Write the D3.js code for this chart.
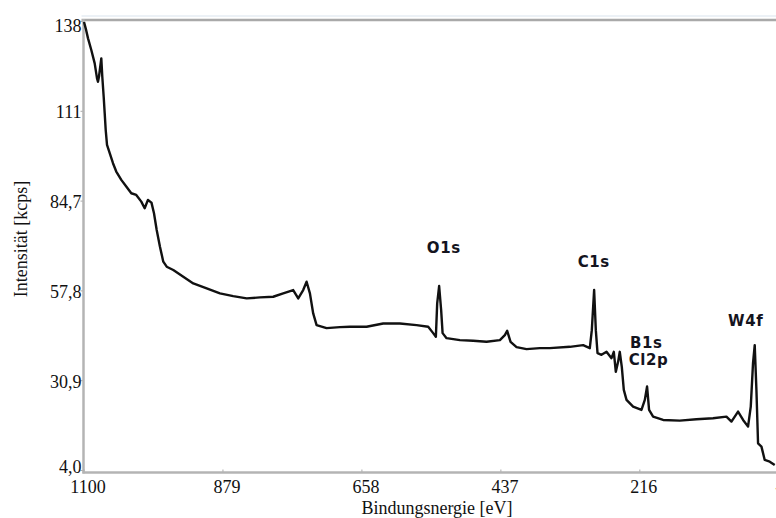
<!DOCTYPE html>
<html>
<head>
<meta charset="utf-8">
<script src="https://cdn.jsdelivr.net/npm/d3@7"></script>
<style>
  html, body { margin: 0; padding: 0; background: #fff; }
  svg { display: block; }
</style>
</head>
<body>
<svg id="chart" width="776" height="518"></svg>
<script>
// Binding energy (eV) and intensity (kcps)
const energy = [1099.2,1096.5,1092.8,1087.6,1082.2,1078.5,1077,1075.4,1071.7,1070.1,1067.9,1066.3,1064.7,1062.6,1058.3,1053.1,1047.9,1039.9,1032,1024,1016.1,1008.1,1002.7,997.5,991.9,987.9,983.6,978.4,973.1,967.7,957.2,941.3,925.4,904.1,883,861.9,840.5,819.4,798.3,782.4,766.5,758.5,750.6,745.2,739.9,734.7,729.3,713.4,692.2,676.3,649.8,623.4,596.8,570.3,551.8,543.9,539.6,537.5,534.4,531.2,528.9,522.6,501.4,480.3,459,437.8,429.9,426.2,420.8,411.3,395.4,374.3,358.4,326.6,305.4,294.8,291.6,287.9,285.2,282.5,276.2,268.2,260.3,256.6,253.4,249.8,247.1,243.9,240.7,236.4,225.9,212.6,207.3,203.7,200.5,194.1,178.2,151.7,125.2,98.8,77.5,69.5,59,51,43.1,38.8,35.2,32.5,29.8,27.2,21.8,16.6,8.6,0.7];
const intensity = [138.2,136.3,133.3,129.8,125.8,121.3,120.3,121.8,127.3,121.8,115.8,110.9,105.9,101.4,98.9,95.9,93.4,90.9,88.9,86.9,86.4,84.4,82.4,84.9,84.1,80.9,75.9,70.9,66.4,64.9,63.9,61.9,59.9,58.4,56.9,56.1,55.4,55.7,55.9,56.9,57.9,55.4,57.9,60.4,56.9,50.9,47.4,46.5,46.8,46.9,46.9,47.9,47.9,47.4,46.9,45.0,43.9,53.9,59.1,51.9,45.0,43.5,42.9,42.7,42.4,42.9,44.4,45.7,42.4,40.8,40.2,40.5,40.5,40.9,41.4,40.5,45.9,57.9,45.9,39.0,38.5,39.4,37.5,39.4,33.4,36.4,39.4,34.9,28.0,25.0,23.0,22.0,25.0,29.0,22.0,20.0,19.0,18.8,19.2,19.5,20.0,18.5,21.5,19.0,17.0,23.0,36.0,41.4,28.0,12.0,11.0,7.0,6.5,5.5];

const xTickValues = [1100, 879, 658, 437, 216, -5];
const xTickLabels = ["1100", "879", "658", "437", "216", "-5"];
const yTickValues = [4.0, 30.9, 57.8, 84.7, 111.6, 138.5];
const yTickLabels = ["4,0", "30,9", "57,8", "84,7", "111", "138"];

const peakNames = ["O1s", "C1s", "B1s", "Cl2p", "W4f"];
const peakEnergy = [554, 314, 231, 233, 75];
const peakLevel = [69.1, 64.7, 40.5, 35.6, 47.1];

const axisTitleX = "Bindungsnergie [eV]";
const axisTitleY = "Intensität [kcps]";

const svg = d3.select("#chart");
const plotLeft = 83.5, plotRight = 778.3, plotTop = 21, plotBottom = 470;
const axisY = 472.5;

const x = d3.scaleLinear().domain([1100, -5]).range([plotLeft, plotRight]);
const y = d3.scaleLinear().domain([4.0, 138.5]).range([plotBottom, plotTop]);

svg.append("rect").attr("width", 776).attr("height", 518).attr("fill", "#fff");

// frame top lines
svg.append("line").attr("x1", plotLeft - 2).attr("x2", 776).attr("y1", 16).attr("y2", 16)
  .attr("stroke", "#e6edf3").attr("stroke-width", 1.5);
svg.append("line").attr("x1", plotLeft - 2).attr("x2", 776).attr("y1", 20).attr("y2", 20)
  .attr("stroke", "#a9a9a9").attr("stroke-width", 2.5);

const font = "'Liberation Serif', 'Times New Roman', serif";

// y axis
const yAxis = d3.axisLeft(y).tickValues(yTickValues)
  .tickFormat((d, i) => yTickLabels[i]).tickSize(3).tickSizeOuter(0);
const gy = svg.append("g").attr("transform", `translate(${plotLeft},0)`).call(yAxis);
gy.select(".domain").remove();
gy.selectAll(".tick line").attr("stroke", "#aaa");
const nTick = yTickValues.length;
gy.selectAll(".tick text").attr("font-family", font).attr("font-size", 18)
  .attr("fill", "#111").attr("x", -2).attr("dy", "0.34em")
  .attr("y", (d, i) => i === 0 ? -4 : (i === nTick - 1 ? 4 : 1));
svg.append("line").attr("x1", plotLeft).attr("x2", plotLeft).attr("y1", 19).attr("y2", axisY + 1)
  .attr("stroke", "#b4b4b4").attr("stroke-width", 2.5);

// x axis
const xAxis = d3.axisBottom(x).tickValues(xTickValues)
  .tickFormat((d, i) => xTickLabels[i]).tickSize(-3).tickSizeOuter(0);
const gx = svg.append("g").attr("transform", `translate(0,${axisY})`).call(xAxis);
gx.select(".domain").remove();
gx.selectAll(".tick line").attr("stroke", "#aaa");
gx.selectAll(".tick text").attr("font-family", font).attr("font-size", 18)
  .attr("fill", "#111").attr("y", 8).attr("dx", 4);
svg.append("line").attr("x1", plotLeft - 1).attr("x2", 776).attr("y1", axisY).attr("y2", axisY)
  .attr("stroke", "#b4b4b4").attr("stroke-width", 2.5);

// axis titles
svg.append("text").attr("x", 437).attr("y", 514).attr("text-anchor", "middle")
  .attr("font-family", font).attr("font-size", 18).attr("fill", "#111").text(axisTitleX);
svg.append("text").attr("transform", "translate(27,239) rotate(-90)").attr("text-anchor", "middle")
  .attr("font-family", font).attr("font-size", 18).attr("fill", "#111").text(axisTitleY);

// spectrum
const pts = energy.map((e, i) => [e, intensity[i]]);
const line = d3.line().x(d => x(d[0])).y(d => y(d[1]));
svg.append("path").datum(pts).attr("d", line).attr("fill", "none")
  .attr("stroke", "#111").attr("stroke-width", 2.4).attr("stroke-linejoin", "round");

// peak labels
svg.append("g").selectAll("text").data(peakNames).join("text")
  .attr("x", (d, i) => x(peakEnergy[i]))
  .attr("y", (d, i) => y(peakLevel[i]))
  .attr("font-family", "'DejaVu Sans', Verdana, sans-serif")
  .attr("font-weight", "bold").attr("font-size", 15).attr("letter-spacing", 0.6)
  .attr("fill", "#14141e").text(d => d);
</script>
</body>
</html>
